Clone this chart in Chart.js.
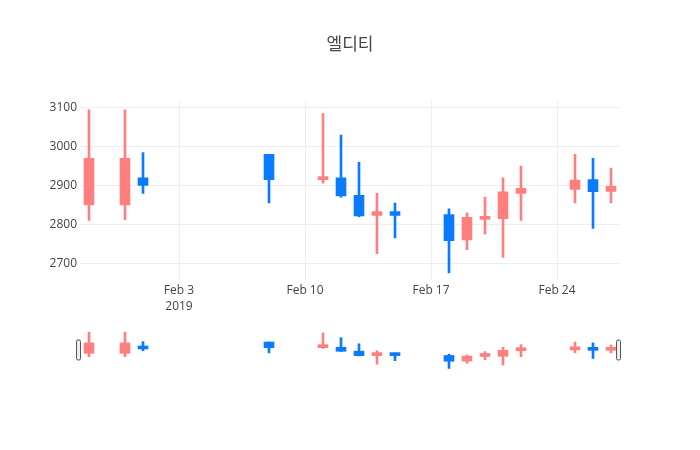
<!DOCTYPE html>
<html>
<head>
<meta charset="utf-8">
<script src="https://cdn.jsdelivr.net/npm/chart.js@4/dist/chart.umd.min.js"></script>
<style>
  html, body { margin: 0; background: #fff; }
  #wrap { position: relative; width: 700px; height: 450px; }
  #main   { position: absolute; left: 0; top: 0; }
  #slider { position: absolute; left: 0; top: 330px; }
</style>
</head>
<body>
<div id="wrap">
  <canvas id="main" width="700" height="450"></canvas>
  <canvas id="slider" width="700" height="40"></canvas>
</div>
<script>
/* ── Datos ── */
const fechas  = ["2019-01-29","2019-01-31","2019-02-01","2019-02-08","2019-02-11","2019-02-12",
                 "2019-02-13","2019-02-14","2019-02-15","2019-02-18","2019-02-19","2019-02-20",
                 "2019-02-21","2019-02-22","2019-02-25","2019-02-26","2019-02-27"];
const aperturas = [2850, 2850, 2920, 2980, 2915, 2920, 2875, 2823, 2833, 2825, 2760, 2813, 2815, 2880, 2890, 2915, 2885];
const maximos   = [3095, 3095, 2985, 2980, 3085, 3030, 2960, 2880, 2855, 2840, 2830, 2870, 2920, 2950, 2980, 2970, 2945];
const minimos   = [2810, 2812, 2880, 2855, 2906, 2870, 2820, 2725, 2765, 2675, 2735, 2775, 2715, 2810, 2855, 2790, 2855];
const cierres   = [2970, 2970, 2900, 2915, 2922, 2873, 2822, 2833, 2823, 2758, 2818, 2820, 2884, 2893, 2914, 2884, 2898];

const xTickFechas = ["2019-02-03", "2019-02-10", "2019-02-17", "2019-02-24"];
const xTickLabels = [["Feb 3", "2019"], "Feb 10", "Feb 17", "Feb 24"];
const yTicks      = [2700, 2800, 2900, 3000, 3100];

const ROJO = "#ff7f7f";
const AZUL = "#0a7bff";

/* ── Helpers ── */
const BASE = Date.UTC(2019, 1, 3);
function dia(s) {
  return (new Date(s + "T00:00:00Z").getTime() - BASE) / 86400000;
}
const colores = aperturas.map((o, i) => cierres[i] >= o ? ROJO : AZUL);

function datasets() {
  return [
    {
      label: "mecha",
      data: fechas.map((f, i) => ({ x: dia(f), y: [minimos[i], maximos[i]] })),
      backgroundColor: colores,
      barThickness: 2,
      grouped: false,
    },
    {
      label: "cuerpo",
      data: fechas.map((f, i) => ({ x: dia(f), y: [aperturas[i], cierres[i]] })),
      backgroundColor: colores,
      barThickness: 10,
      minBarLength: 3,
      grouped: false,
    },
  ];
}

const X_MIN = dia("2019-01-29") - 0.5;
const X_MAX = dia("2019-02-27") + 0.5;
const Y_MIN = 2657, Y_MAX = 3119;
const fuente = { family: "'Open Sans', sans-serif", size: 12, lineHeight: 16 / 12 };

/* ── Gráfica principal ── */
new Chart(document.getElementById("main"), {
  type: "bar",
  data: { datasets: datasets() },
  options: {
    responsive: false,
    animation: false,
    layout: { padding: 0 },
    plugins: {
      legend: { display: false },
      tooltip: { enabled: false },
      title: {
        display: true,
        text: "엘디티",
        color: "#444",
        font: { family: "'Noto Sans CJK KR', sans-serif", size: 17, weight: "normal" },
        padding: { top: 33, bottom: 47 },
      },
    },
    scales: {
      x: {
        type: "linear",
        min: X_MIN, max: X_MAX,
        offset: false,
        grid: { color: "#eee", drawTicks: false, offset: false },
        border: { display: false },
        ticks: {
          color: "#444", font: fuente, padding: 3, maxRotation: 0, autoSkip: false,
          callback: (v) => {
            const k = xTickFechas.findIndex(f => dia(f) === v);
            return k >= 0 ? xTickLabels[k] : "";
          },
        },
        afterBuildTicks: s => { s.ticks = xTickFechas.map(f => ({ value: dia(f) })); },
        afterFit: s => { s.height = 170; },
      },
      y: {
        min: Y_MIN, max: Y_MAX,
        grid: { color: "#eee", drawTicks: false },
        border: { display: false },
        ticks: { color: "#444", font: fuente, padding: 3, callback: v => String(v) },
        afterBuildTicks: s => { s.ticks = yTicks.map(v => ({ value: v })); },
        afterFit: s => { s.width = 80; },
      },
      margenDer: {
        position: "right",
        min: Y_MIN, max: Y_MAX,
        grid: { display: false },
        border: { display: false },
        ticks: { display: false },
        afterFit: s => { s.width = 80; },
      },
    },
  },
});

/* ── Range slider ── */
const agarraderas = {
  id: "agarraderas",
  afterDraw(chart) {
    const { ctx, chartArea: a } = chart;
    const cy = (a.top + a.bottom) / 2;
    ctx.save();
    ctx.fillStyle = "#eee";
    ctx.strokeStyle = "#555";
    ctx.lineWidth = 1;
    [a.left - 3.5, a.right - 3.5].forEach(x => {
      ctx.beginPath();
      ctx.roundRect(x, cy - 10, 4, 20, 1.5);
      ctx.fill();
      ctx.stroke();
    });
    ctx.restore();
  },
};

new Chart(document.getElementById("slider"), {
  type: "bar",
  data: { datasets: datasets() },
  options: {
    responsive: false,
    animation: false,
    layout: { padding: { left: 80, right: 80, top: 0, bottom: 0 } },
    plugins: { legend: { display: false }, tooltip: { enabled: false } },
    scales: {
      x: { type: "linear", min: X_MIN, max: X_MAX, display: false, offset: false },
      y: { min: Y_MIN, max: Y_MAX, display: false },
    },
  },
  plugins: [agarraderas],
});
</script>
</body>
</html>
